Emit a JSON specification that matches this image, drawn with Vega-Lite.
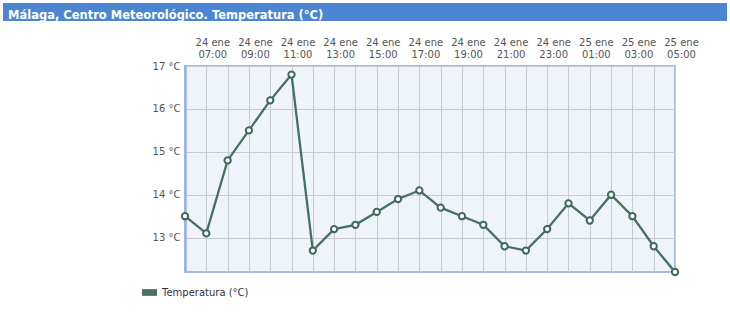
{
  "$schema": "https://vega.github.io/schema/vega-lite/v6.json",
  "padding": {"left": 3, "top": 3, "right": 3, "bottom": 3},
  "background": "white",
  "config": {"font": "DejaVu Sans", "view": {"stroke": null}},
  "spacing": 4,
  "vconcat": [
    {
      "width": 724,
      "height": 18,
      "view": {"fill": "#4c86d2", "stroke": null},
      "data": {"values": [{"titulo": "Málaga, Centro Meteorológico. Temperatura (°C)"}]},
      "mark": {
        "type": "text",
        "align": "left",
        "baseline": "alphabetic",
        "dx": -357,
        "dy": 6.5,
        "color": "white",
        "fontSize": 11.5,
        "fontWeight": "bold",
        "font": "DejaVu Sans"
      },
      "encoding": {"text": {"field": "titulo"}}
    },
    {
      "spacing": 0,
      "hconcat": [
        {
          "width": 141,
          "height": 206,
          "view": {"stroke": null},
          "data": {"values": [{"banda": "margen"}]},
          "mark": {"type": "text"},
          "encoding": {"text": {"value": ""}}
        },
        {
          "width": 490,
          "height": 206,
          "view": {"fill": "#eff4fb", "stroke": "#a5bde3", "strokeWidth": 2},
          "data": {
            "values": [
              {"hora": "24 ene 06:00", "temperatura": 13.5},
              {"hora": "24 ene 07:00", "temperatura": 13.1},
              {"hora": "24 ene 08:00", "temperatura": 14.8},
              {"hora": "24 ene 09:00", "temperatura": 15.5},
              {"hora": "24 ene 10:00", "temperatura": 16.2},
              {"hora": "24 ene 11:00", "temperatura": 16.8},
              {"hora": "24 ene 12:00", "temperatura": 12.7},
              {"hora": "24 ene 13:00", "temperatura": 13.2},
              {"hora": "24 ene 14:00", "temperatura": 13.3},
              {"hora": "24 ene 15:00", "temperatura": 13.6},
              {"hora": "24 ene 16:00", "temperatura": 13.9},
              {"hora": "24 ene 17:00", "temperatura": 14.1},
              {"hora": "24 ene 18:00", "temperatura": 13.7},
              {"hora": "24 ene 19:00", "temperatura": 13.5},
              {"hora": "24 ene 20:00", "temperatura": 13.3},
              {"hora": "24 ene 21:00", "temperatura": 12.8},
              {"hora": "24 ene 22:00", "temperatura": 12.7},
              {"hora": "24 ene 23:00", "temperatura": 13.2},
              {"hora": "25 ene 00:00", "temperatura": 13.8},
              {"hora": "25 ene 01:00", "temperatura": 13.4},
              {"hora": "25 ene 02:00", "temperatura": 14.0},
              {"hora": "25 ene 03:00", "temperatura": 13.5},
              {"hora": "25 ene 04:00", "temperatura": 12.8},
              {"hora": "25 ene 05:00", "temperatura": 12.2}
            ]
          },
          "encoding": {
            "x": {
              "field": "hora",
              "type": "ordinal",
              "sort": null,
              "scale": {"type": "point", "padding": 0},
              "axis": {
                "orient": "top",
                "title": null,
                "labelExpr": "parseInt(substring(datum.label, 7, 9)) % 2 == 1 ? [substring(datum.label, 0, 6), substring(datum.label, 7, 12)] : ''",
                "labelAngle": 0,
                "labelAlign": "center",
                "labelBaseline": "bottom",
                "labelOverlap": false,
                "labelFlush": false,
                "labelBound": false,
                "labelPadding": 19,
                "labelLineHeight": 12,
                "labelFontSize": 10,
                "labelColor": "#555555",
                "labelOffset": 6,
                "ticks": false,
                "domain": false,
                "grid": true,
                "gridColor": "#c6cbd4",
                "minExtent": 40,
                "maxExtent": 40
              }
            },
            "y": {
              "field": "temperatura",
              "type": "quantitative",
              "scale": {"domain": [12.2, 17], "nice": false, "zero": false},
              "axis": {
                "title": null,
                "values": [13, 14, 15, 16, 17],
                "labelExpr": "datum.value + ' °C'",
                "ticks": false,
                "domain": true,
                "domainColor": "#9bb3dd",
                "domainWidth": 2.5,
                "labelPadding": 5,
                "labelFontSize": 10,
                "labelColor": "#555555",
                "grid": true,
                "gridColor": "#c6cbd4",
                "minExtent": 40,
                "maxExtent": 40
              }
            }
          },
          "layer": [
            {
              "mark": {"type": "line", "strokeWidth": 2.3},
              "encoding": {
                "color": {
                  "datum": "Temperatura (°C)",
                  "type": "nominal",
                  "scale": {"range": ["#44705f"]},
                  "legend": {
                    "title": null,
                    "orient": "none",
                    "legendX": 139,
                    "legendY": 282,
                    "padding": 0,
                    "symbolType": "M-1,-0.45H1V0.45H-1Z",
                    "symbolSize": 225,
                    "labelFontSize": 10,
                    "labelColor": "#333333",
                    "labelOffset": 5,
                    "encode": {
                      "symbols": {
                        "update": {
                          "fill": {"value": "#4a7363"},
                          "stroke": {"value": "#4a7363"},
                          "strokeWidth": {"value": 0}
                        }
                      }
                    }
                  }
                }
              }
            },
            {
              "mark": {
                "type": "point",
                "shape": "circle",
                "filled": true,
                "fill": "white",
                "stroke": "#3f6a5b",
                "strokeWidth": 2,
                "size": 40,
                "opacity": 1
              }
            }
          ]
        }
      ]
    }
  ]
}
